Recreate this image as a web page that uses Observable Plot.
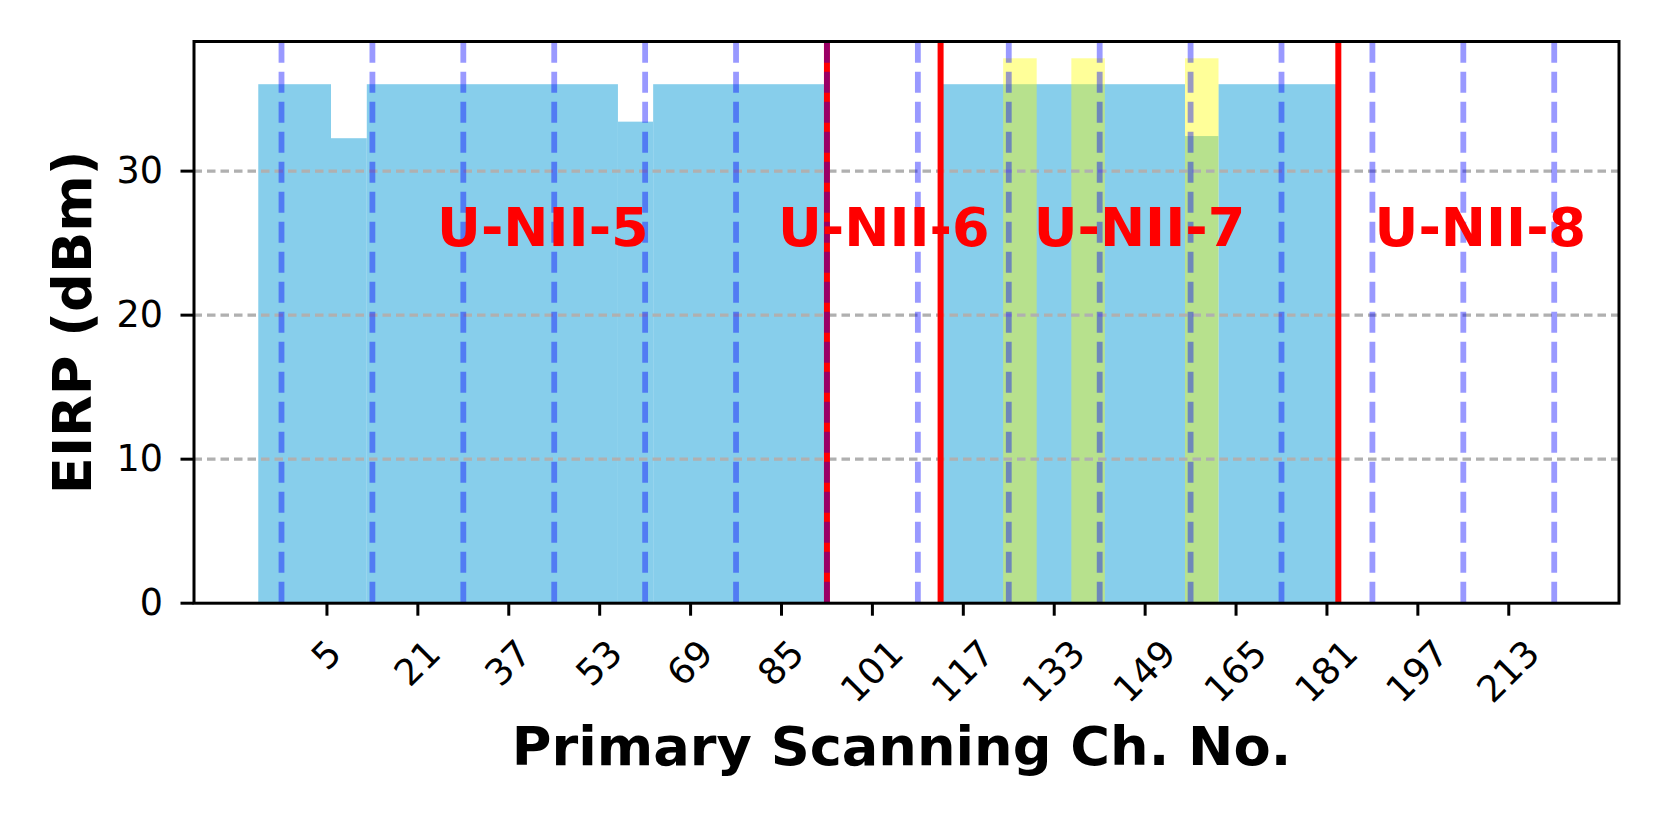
<!DOCTYPE html>
<html>
<head>
<meta charset="utf-8">
<script src="https://cdn.jsdelivr.net/npm/d3@7"></script>
<script src="https://cdn.jsdelivr.net/npm/@observablehq/plot@0.6"></script>
<style>
  html, body { margin: 0; padding: 0; background: white; }
  #chart svg { display: block; }
</style>
</head>
<body>
<div id="chart"></div>
<script>
// ---- data ----
const xTicks = [5, 21, 37, 53, 69, 85, 101, 117, 133, 149, 165, 181, 197, 213];
const yTicks = [0, 10, 20, 30];

// allowed EIRP per channel span (blue)
const blueStart = [-7, 5.8, 12.1, 56.3, 62.5, 113, 156.1, 162];
const blueEnd   = [5.8, 12.1, 56.3, 62.5, 93, 156.1, 162, 183];
const blueEirp  = [36, 32.25, 36, 33.4, 36, 36, 32.4, 36];

// highlighted spans (yellow)
const yellowStart = [124.1, 136.1, 156.1];
const yellowEnd   = [130, 142, 162];
const yellowEirp  = [37.8, 37.8, 37.8];

// band borders (red) and primary scanning channels (dashed blue)
const bandEdges = [93, 113, 183];
const scanChannels = [-3, 13, 29, 45, 61, 77, 93, 109, 125, 141, 157, 173, 189, 205, 221];

const bandLabels = ["U-NII-5", "U-NII-6", "U-NII-7", "U-NII-8"];
const bandLabelX = [43, 103, 148, 208];
const bandLabelY = [26, 26, 26, 26];

const xLabel = "Primary Scanning Ch. No.";
const yLabel = "EIRP (dBm)";

// ---- tables built from the arrays ----
const blue = blueStart.map((s, i) => ({x1: s, x2: blueEnd[i], y: blueEirp[i]}));
const yellow = yellowStart.map((s, i) => ({x1: s, x2: yellowEnd[i], y: yellowEirp[i]}));
const bands = bandLabels.map((t, i) => ({t, x: bandLabelX[i], y: bandLabelY[i]}));

const W = 1661, H = 830;
const mL = 193.5, mR = 42.5, mT = 41, mB = 227.3;
const tickFs = 36.5;
const labelFs = 54.2;

// rotated (45°) x tick labels, centred under their tick like matplotlib
const xTickLabelMarks = xTicks.map(t => {
  const s = String(t);
  const w = s.length * 0.636 * tickFs;
  const h = 1.164 * tickFs;
  const bboxH = (w + h) / Math.SQRT2;
  return Plot.text([t], {
    x: d => d,
    frameAnchor: "bottom",
    text: d => String(d),
    rotate: -45,
    textAnchor: "middle",
    lineAnchor: "middle",
    fontSize: tickFs,
    fill: "black",
    dy: 29 + bboxH / 2
  });
});

const chart = Plot.plot({
  width: W,
  height: H,
  marginLeft: mL,
  marginRight: mR,
  marginTop: mT,
  marginBottom: mB,
  style: {fontFamily: "DejaVu Sans", background: "white", color: "black"},
  x: {domain: [-18.4, 232.4]},
  y: {domain: [0, 39]},
  marks: [
    Plot.rect(blue, {x1: "x1", x2: "x2", y1: () => 0, y2: "y", fill: "#87CEEB"}),
    Plot.rect(yellow, {x1: "x1", x2: "x2", y1: () => 0, y2: "y", fill: "yellow", fillOpacity: 0.4}),
    Plot.ruleY([10, 20, 30], {stroke: "#b0b0b0", strokeWidth: 3.2, strokeDasharray: "8.5,5"}),
    Plot.ruleX(bandEdges, {x: d => d, y1: () => 0, y2: () => 39, stroke: "red", strokeWidth: 6}),
    Plot.ruleX(scanChannels, {x: d => d, y1: () => 0, y2: () => 39, stroke: "blue", strokeOpacity: 0.4, strokeWidth: 5.8, strokeDasharray: "21,9"}),
    Plot.text(bands, {x: "x", y: "y", text: "t", fill: "red", fontSize: 54, fontWeight: "bold", textAnchor: "middle", lineAnchor: "middle"}),
    Plot.frame({stroke: "black", strokeWidth: 3}),
    Plot.axisY({ticks: yTicks, tickSize: 13, tickPadding: 18, fontSize: tickFs, strokeWidth: 3, label: null}),
    Plot.axisX({ticks: xTicks, tickSize: 13, tickFormat: () => "", strokeWidth: 3, label: null}),
    ...xTickLabelMarks,
    Plot.text([xLabel], {text: d => d, frameAnchor: "bottom", dx: -5, dy: 144, fontSize: labelFs, fontWeight: "bold", textAnchor: "middle", lineAnchor: "middle"}),
    Plot.text([yLabel], {text: d => d, frameAnchor: "left", dx: -120.5, rotate: -90, fontSize: labelFs, fontWeight: "bold", textAnchor: "middle", lineAnchor: "middle"})
  ]
});
document.getElementById("chart").appendChild(chart);
</script>
</body>
</html>
